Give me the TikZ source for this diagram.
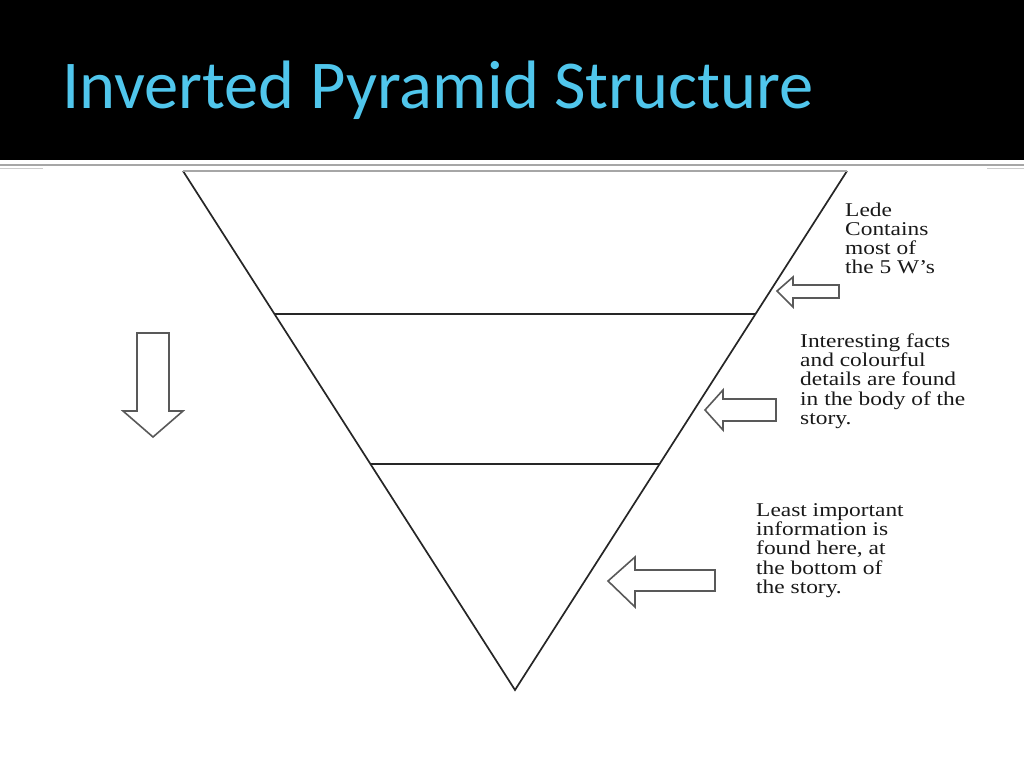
\documentclass[tikz,border=0pt]{standalone}
\usepackage{fontspec}
\usepackage{graphicx}
\setmainfont{Liberation Serif}
\newfontfamily\titlefont{Carlito}
\usetikzlibrary{calc}
\definecolor{titleblue}{RGB}{80,198,236}
\newcommand{\notetext}[1]{\scalebox{1.2}[1]{\begin{tabular}[t]{@{}l@{}}#1\end{tabular}}}
\begin{document}
\begin{tikzpicture}[x=1pt,y=-1pt,
  blockarrow/.style={draw=black!65,line width=1.6pt,fill=white,line join=miter},
  tier/.style={line width=1.6pt,black!85},
  note/.style={anchor=base west,inner sep=0pt,text=black!90,font=\fontsize{19.5}{19}\selectfont}]
  \useasboundingbox (0,0) rectangle (1024,768);
  % title band
  \fill[black] (0,0) rectangle (1024,160);
  \node[anchor=base west,inner sep=0pt,text=titleblue,
    font=\titlefont\fontsize{68.5}{80}\selectfont] (title) at (62,108) {Inverted Pyramid Structure};
  \draw[gray!70,line width=1.2pt] (0,165) -- (1024,165);
  \draw[gray!40,line width=1pt] (0,168) -- (43,168);
  \draw[gray!40,line width=1pt] (987,168) -- (1024,168);

  % pyramid
  \coordinate (tl) at (183,171);
  \coordinate (tr) at (847,171);
  \coordinate (bot) at (515,690);
  \draw[tier,line width=1.7pt,line join=miter] (tr) -- (bot) -- (tl);
  \draw[line width=2.4pt,gray!70] (tl) -- (tr);
  \draw[tier] ($(tl)!0.275!(bot)$) -- ($(tr)!0.275!(bot)$);
  \draw[tier] ($(tl)!0.564!(bot)$) -- ($(tr)!0.564!(bot)$);

  % arrows
  \draw[blockarrow] (137,333) -- (169,333) -- (169,411) -- (183,411) -- (153,437)
    -- (123,411) -- (137,411) -- cycle;
  \draw[blockarrow] (777,291) -- (793,277) -- (793,285) -- (839,285) -- (839,298)
    -- (793,298) -- (793,307) -- cycle;
  \draw[blockarrow] (705,410) -- (723,390) -- (723,399) -- (776,399) -- (776,421)
    -- (723,421) -- (723,430) -- cycle;
  \draw[blockarrow] (608,581) -- (635,557) -- (635,570) -- (715,570) -- (715,591)
    -- (635,591) -- (635,607) -- cycle;

  % labels
  \node[note] (lede) at (845,216) {\notetext{Lede\\Contains\\most of\\the 5 W’s}};
  \node[note] (body) at (800,347) {\notetext{Interesting facts\\and colourful\\details are found\\in the body of the\\story.}};
  \node[note] (tail) at (756,516) {\notetext{Least important\\information is\\found here, at\\the bottom of\\the story.}};
\end{tikzpicture}
\end{document}
